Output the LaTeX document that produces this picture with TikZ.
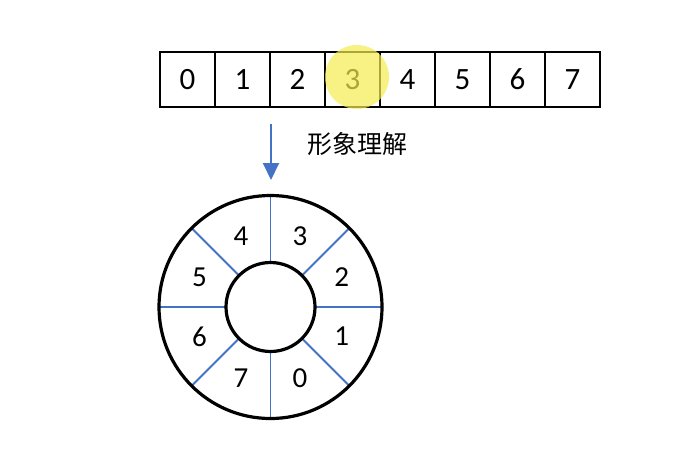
\documentclass[tikz,border=0pt]{standalone}
\usepackage{fontspec}
\setmainfont{Carlito}
\newfontfamily\cjk{Noto Sans CJK SC}
\usetikzlibrary{arrows.meta,calc}

\definecolor{ringblue}{RGB}{68,114,196}
\definecolor{marker}{RGB}{245,235,80}

\tikzset{every picture/.style={line width=0.75pt}}
\tikzset{
  cell/.style={draw,line width=2.4pt,minimum width=55pt,minimum height=55pt,inner sep=0pt,font=\fontsize{31}{34}\selectfont},
  spoke/.style={draw=ringblue,line width=1.9pt},
  ringlabel/.style={inner sep=0pt,font=\fontsize{29}{32}\selectfont}
}

\begin{document}
\begin{tikzpicture}[x=1pt,y=1pt,yscale=-1,xscale=1]
	\useasboundingbox (0,0) rectangle (692,460);
	
	%Array cells
	\foreach \i in {0,...,7}
	\node [cell] (c\i) at (187.5+55*\i,79.5) {\i};
	
	%Highlight [id:marker]
	\fill [marker,opacity=0.7] (357,77) circle (32);
	
	%Arrow
	\coordinate (atop) at (271,124);
	\coordinate (abot) at (271,180);
	\draw [ringblue,line width=2pt,-{Triangle[length=17pt,width=16pt]}] (atop) -- (abot);
	
	% Text Node
	\node [font=\cjk\fontsize{25}{28}\selectfont] (label) at (357,144) {形象理解};
	
	%Ring
	\coordinate (o) at (270.5,307);
	\foreach \a in {0,45,...,315}
	\draw [spoke] ($(o)+(\a:44.5)$) -- ($(o)+(\a:111.5)$);
	\draw [line width=3.2pt] (o) circle (111.5);
	\draw [line width=3.2pt] (o) circle (44.5);
	
	%Ring labels
	\foreach \k/\a in {0/292.5,1/337.5,2/22.5,3/67.5,4/112.5,5/157.5,6/202.5,7/247.5}
	\node [ringlabel] (r\k) at ($(o)+(-\a:77)$) {\k};
	
\end{tikzpicture}
\end{document}
